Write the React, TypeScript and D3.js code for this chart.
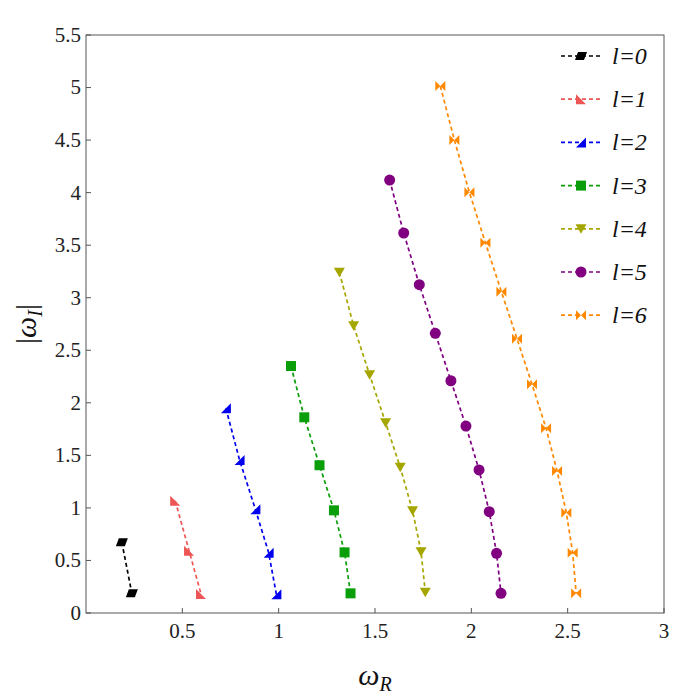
import * as d3 from "d3";
import React from "react";

// quasinormal frequencies per multipole l
const l0x = [0.186, 0.238];
const l0y = [0.673, 0.187];
const l1x = [0.463, 0.535, 0.597];
const l1y = [1.069, 0.593, 0.181];
const l2x = [0.726, 0.797, 0.879, 0.948, 0.988];
const l2y = [1.948, 1.456, 0.987, 0.574, 0.178];
const l3x = [1.064, 1.133, 1.212, 1.287, 1.342, 1.373];
const l3y = [2.35, 1.862, 1.406, 0.977, 0.577, 0.187];
const l4x = [1.315, 1.389, 1.472, 1.555, 1.631, 1.695, 1.739, 1.761];
const l4y = [3.242, 2.734, 2.267, 1.811, 1.386, 0.973, 0.584, 0.197];
const l5x = [1.576, 1.649, 1.73, 1.813, 1.894, 1.972, 2.04, 2.093, 2.131, 2.154];
const l5y = [4.12, 3.616, 3.124, 2.661, 2.21, 1.779, 1.361, 0.964, 0.568, 0.187];
const l6x = [1.839, 1.912, 1.99, 2.073, 2.156, 2.237, 2.315, 2.388, 2.445, 2.493, 2.526, 2.544];
const l6y = [5.014, 4.5, 4.003, 3.523, 3.057, 2.61, 2.176, 1.757, 1.351, 0.954, 0.574, 0.187];

const seriesLabels = ["0", "1", "2", "3", "4", "5", "6"];
const seriesX = [l0x, l1x, l2x, l3x, l4x, l5x, l6x];
const seriesY = [l0y, l1y, l2y, l3y, l4y, l5y, l6y];

const xTicks = [0.5, 1, 1.5, 2, 2.5, 3];
const yTicks = [0, 0.5, 1, 1.5, 2, 2.5, 3, 3.5, 4, 4.5, 5, 5.5];

const colors = ["#000000", "#ee5555", "#0000ee", "#0a9e0a", "#a6a600", "#800080", "#ff8800"];

const serif: React.CSSProperties = { fontFamily: "Liberation Serif" };
const serifItalic: React.CSSProperties = { fontFamily: "Liberation Serif", fontStyle: "italic" };

// marker paths centred on 0,0
const markerPaths = [
  "M-3,-4L6,-4L3,4L-6,4Z", // parallelogram
  "M-5,-5L-5,5L5,5Z", // lower-left triangle
  "M5,-5L5,5L-5,5Z", // lower-right triangle
  "M-5,-5L5,-5L5,5L-5,5Z", // square
  "M-5.5,-4.5L5.5,-4.5L0,5Z", // down triangle
  "", // circle
  "M-5,-5L0,0L-5,5Z M5,-5L0,0L5,5Z", // bowtie
];

const width = 700;
const height = 699;
const margin = { top: 35, right: 36, bottom: 86, left: 86 };
const plotWidth = width - margin.left - margin.right;
const plotHeight = height - margin.top - margin.bottom;

const Marker: React.FC<{ i: number; cx: number; cy: number }> = ({ i, cx, cy }) =>
  i === 5 ? (
    <circle cx={cx} cy={cy} r={5.5} fill={colors[i]} />
  ) : (
    <path d={markerPaths[i]} transform={`translate(${cx},${cy})`} fill={colors[i]} />
  );

const App: React.FC = () => {
  const x = d3.scaleLinear().domain([0, 3]).range([0, plotWidth]);
  const y = d3.scaleLinear().domain([0, 5.5]).range([plotHeight, 0]);
  const line = d3
    .line<[number, number]>()
    .x((d) => x(d[0]))
    .y((d) => y(d[1]));

  return (
    <svg
      id="qnm-chart"
      width={width}
      height={height}
      style={{ position: "absolute", left: 0, top: 0, background: "#fff" }}
    >
      <style>{`#qnm-chart text, #qnm-chart tspan { font-family: "Liberation Serif", "Times New Roman", Tinos, serif !important; }`}</style>
      <g transform={`translate(${margin.left},${margin.top})`}>
        {/* x ticks */}
        {xTicks.map((t) => (
          <g key={`x${t}`} transform={`translate(${x(t)},${plotHeight})`}>
            <line y2={-5} stroke="#555" />
            <text y={25} textAnchor="middle" fill="#222" style={{ ...serif, fontSize: "21px" }}>
              {String(t)}
            </text>
          </g>
        ))}
        {/* y ticks */}
        {yTicks.map((t) => (
          <g key={`y${t}`} transform={`translate(0,${y(t)})`}>
            <line x2={5} stroke="#555" />
            <text
              x={-5}
              dy="0.33em"
              textAnchor="end"
              fill="#222"
              style={{ ...serif, fontSize: "21px" }}
            >
              {String(t)}
            </text>
          </g>
        ))}
        <rect width={plotWidth} height={plotHeight} fill="none" stroke="#555" />

        {seriesX.map((xs, i) => {
          const pts: [number, number][] = xs.map((v, j) => [v, seriesY[i][j]]);
          return (
            <g key={`s${i}`}>
              <path
                d={line(pts) || ""}
                fill="none"
                stroke={colors[i]}
                strokeWidth={1.7}
                strokeDasharray="4,3"
              />
              {pts.map((p, j) => (
                <Marker key={j} i={i} cx={x(p[0])} cy={y(p[1])} />
              ))}
            </g>
          );
        })}
      </g>

      {/* legend */}
      {seriesLabels.map((lab, i) => {
        const ly = 56 + i * 43.2;
        return (
          <g key={`l${i}`}>
            <line
              x1={561}
              x2={600}
              y1={ly}
              y2={ly}
              stroke={colors[i]}
              strokeWidth={1.7}
              strokeDasharray="4,3"
            />
            <Marker i={i} cx={581} cy={ly} />
            <text x={612} y={ly + 8} fill="#111" style={{ ...serifItalic, fontSize: "24px" }}>
              {`l=${lab}`}
            </text>
          </g>
        );
      })}

      {/* x title */}
      <text
        x={margin.left + plotWidth / 2}
        y={685}
        textAnchor="middle"
        fill="#111"
        style={{ ...serif, fontSize: "30px" }}
      >
        <tspan style={serifItalic}>ω</tspan>
        <tspan style={{ ...serifItalic, fontSize: "20px" }} dy={6}>
          R
        </tspan>
      </text>

      {/* y title */}
      <text
        transform={`translate(36,${margin.top + plotHeight / 2}) rotate(-90)`}
        textAnchor="middle"
        fill="#111"
        style={{ ...serif, fontSize: "30px" }}
      >
        <tspan style={serif}>|</tspan>
        <tspan style={serifItalic}>ω</tspan>
        <tspan style={{ ...serifItalic, fontSize: "20px" }} dy={6}>
          I
        </tspan>
        <tspan style={serif} dy={-6}>
          |
        </tspan>
      </text>
    </svg>
  );
};

export default App;
